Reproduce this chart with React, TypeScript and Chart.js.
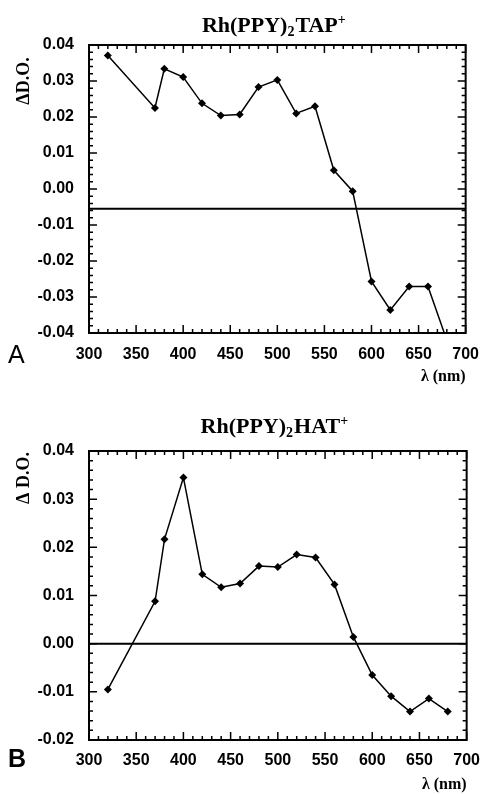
import React, { useEffect, useRef } from "react";
import { Chart, registerables } from "chart.js";
Chart.register(...registerables);

// ---- data ----
const wavelengths = [320, 370, 380, 400, 420, 440, 460, 480, 500, 520, 540, 560, 580, 600, 620, 640, 660, 680];
const tapValues = [0.0371, 0.0225, 0.0334, 0.0311, 0.0238, 0.0204, 0.0207, 0.0283, 0.0303, 0.021, 0.023, 0.0052, -0.0006, -0.0257, -0.0336, -0.0271, -0.0271, -0.042];
const hatValues = [-0.0095, 0.0088, 0.0217, 0.0345, 0.0144, 0.0117, 0.0125, 0.0161, 0.0159, 0.0185, 0.0179, 0.0123, 0.0014, -0.0065, -0.0109, -0.0141, -0.0114, -0.0141];
const baselineX = [300, 700];
const tapBaseline = [-0.0055, -0.0055];
const hatBaseline = [0, 0];
const xTickValues = [300, 350, 400, 450, 500, 550, 600, 650, 700];
const yTicksTap = [-0.04, -0.03, -0.02, -0.01, 0, 0.01, 0.02, 0.03, 0.04];
const yTicksHat = [-0.02, -0.01, 0, 0.01, 0.02, 0.03, 0.04];
const titleTap = [["Rh(PPY)", "n"], ["2", "sub"], ["TAP", "n"], ["+", "sup"]];
const titleHat = [["Rh(PPY)", "n"], ["2", "sub"], ["HAT", "n"], ["+", "sup"]];
const yTitleTap = "\u0394D.O.";
const yTitleHat = "\u0394 D.O.";
const xTitle = "\u03bb (nm)";

const SANS = "'Liberation Sans', Arial, sans-serif";
const SERIF = "'Liberation Serif', 'Times New Roman', serif";

type PanelCfg = {
  height: number;
  top: number;
  padTop: number;
  values: number[];
  baseline: number[];
  yMin: number;
  yMax: number;
  yTicks: number[];
  title: string[][];
  titleY: number;
  yTitle: string;
  yTitleY: number;
  letter: string;
  letterY: number;
  letterWeight: string;
  xScaleHeight: number;
  xLabelPad: number;
  xTitlePad: number;
};

const panels: PanelCfg[] = [
  {
    height: 390, top: 0, padTop: 45, values: tapValues, baseline: tapBaseline, yMin: -0.04, yMax: 0.04,
    yTicks: yTicksTap, title: titleTap, titleY: 32, yTitle: yTitleTap, yTitleY: 81,
    letter: "A", letterY: 363, letterWeight: "normal", xScaleHeight: 57, xLabelPad: 12, xTitlePad: 4,
  },
  {
    height: 404, top: 390, padTop: 61, values: hatValues, baseline: hatBaseline, yMin: -0.02, yMax: 0.04,
    yTicks: yTicksHat, title: titleHat, titleY: 43, yTitle: yTitleHat, yTitleY: 88,
    letter: "B", letterY: 377, letterWeight: "bold", xScaleHeight: 54, xLabelPad: 11, xTitlePad: 0,
  },
];

function makeDecor(cfg: PanelCfg) {
  return {
    id: "decor",
    afterDatasetsDraw(chart: any) {
      const ctx = chart.ctx as CanvasRenderingContext2D;
      const { left, right, top, bottom } = chart.chartArea;
      const xs = chart.scales.x;
      const ys = chart.scales.y;
      ctx.save();
      ctx.strokeStyle = "#000";
      // frame
      ctx.lineWidth = 2;
      ctx.strokeRect(left, top, right - left, bottom - top);
      // inward ticks on all four sides
      ctx.lineWidth = 1.5;
      ctx.beginPath();
      for (let v = 300; v <= 700; v += 10) {
        const px = xs.getPixelForValue(v);
        const len = v % 50 === 0 ? 8 : 4;
        ctx.moveTo(px, bottom);
        ctx.lineTo(px, bottom - len);
        ctx.moveTo(px, top);
        ctx.lineTo(px, top + len);
      }
      const n0 = Math.round(cfg.yMin * 500);
      const n1 = Math.round(cfg.yMax * 500);
      for (let i = n0; i <= n1; i++) {
        const py = ys.getPixelForValue(i / 500);
        const len = i % 5 === 0 ? 8 : 4;
        ctx.moveTo(left, py);
        ctx.lineTo(left + len, py);
        ctx.moveTo(right, py);
        ctx.lineTo(right - len, py);
      }
      ctx.stroke();
      ctx.restore();
    },
    afterDraw(chart: any) {
      const ctx = chart.ctx as CanvasRenderingContext2D;
      const { left, right } = chart.chartArea;
      ctx.save();
      ctx.fillStyle = "#000";
      // title with sub/superscripts
      const main = "bold 22px " + SERIF;
      const small = "bold 14px " + SERIF;
      let total = 0;
      for (const [t, s] of cfg.title) {
        ctx.font = s === "n" ? main : small;
        total += ctx.measureText(t).width + (s === "n" ? 0 : 1);
      }
      let x = (left + right) / 2 - total / 2 - 3;
      ctx.textBaseline = "alphabetic";
      ctx.textAlign = "left";
      for (const [t, s] of cfg.title) {
        ctx.font = s === "n" ? main : small;
        const dy = s === "sub" ? 4 : s === "sup" ? -8 : 0;
        ctx.fillText(t, x, cfg.titleY + dy);
        x += ctx.measureText(t).width + (s === "n" ? 0 : 1);
      }
      // y title
      ctx.save();
      ctx.translate(24, cfg.yTitleY);
      ctx.rotate(-Math.PI / 2);
      ctx.font = "bold 18px " + SERIF;
      ctx.textAlign = "center";
      ctx.textBaseline = "middle";
      ctx.fillText(cfg.yTitle, 0, 0);
      ctx.restore();
      // panel letter
      ctx.font = cfg.letterWeight + " 25px " + SANS;
      ctx.textAlign = "left";
      ctx.textBaseline = "alphabetic";
      ctx.fillText(cfg.letter, 8, cfg.letterY);
      ctx.restore();
    },
  };
}

function Panel({ cfg }: { cfg: PanelCfg }) {
  const ref = useRef<HTMLCanvasElement | null>(null);
  useEffect(() => {
    if (!ref.current) return;
    const chart = new Chart(ref.current, {
      type: "scatter",
      data: {
        datasets: [
          {
            data: wavelengths.map((w, i) => ({ x: w, y: cfg.values[i] })),
            showLine: true,
            borderColor: "#000",
            backgroundColor: "#000",
            borderWidth: 1.5,
            pointStyle: "rectRot",
            pointRadius: 4,
            pointBorderWidth: 0,
            clip: 0,
          } as any,
          {
            data: baselineX.map((w, i) => ({ x: w, y: cfg.baseline[i] })),
            showLine: true,
            borderColor: "#000",
            borderWidth: 2,
            pointRadius: 0,
          } as any,
        ],
      },
      options: {
        animation: false,
        responsive: false,
        layout: { padding: { top: cfg.padTop, right: 16, left: 0, bottom: 0 } },
        plugins: { legend: { display: false }, tooltip: { enabled: false }, title: { display: false } },
        scales: {
          x: {
            type: "linear",
            min: 300,
            max: 700,
            afterBuildTicks: (s: any) => { s.ticks = xTickValues.map((v) => ({ value: v })); },
            afterFit: (s: any) => { s.height = cfg.xScaleHeight; },
            grid: { display: false, drawTicks: false },
            border: { display: false },
            ticks: {
              color: "#000",
              font: { family: SANS, size: 16, weight: "bold" },
              padding: cfg.xLabelPad,
              maxRotation: 0,
              autoSkip: false,
              callback: (v: any) => String(v),
            },
            title: {
              display: true,
              text: xTitle,
              align: "end",
              color: "#000",
              font: { family: SERIF, size: 16, weight: "bold" },
              padding: { top: 0, bottom: cfg.xTitlePad },
            },
          },
          y: {
            type: "linear",
            min: cfg.yMin,
            max: cfg.yMax,
            afterBuildTicks: (s: any) => { s.ticks = cfg.yTicks.map((v) => ({ value: v })); },
            afterFit: (s: any) => { s.width = 89; },
            grid: { display: false, drawTicks: false },
            border: { display: false },
            ticks: {
              color: "#000",
              font: { family: SANS, size: 16, weight: "bold" },
              padding: 15,
              autoSkip: false,
              callback: (v: any) => Number(v).toFixed(2),
            },
          },
        },
      } as any,
      plugins: [makeDecor(cfg)],
    });
    return () => chart.destroy();
  }, [cfg]);
  return (
    <canvas
      ref={ref}
      width={491}
      height={cfg.height}
      style={{ position: "absolute", left: 0, top: cfg.top, width: 491, height: cfg.height, display: "block" }}
    />
  );
}

export default function App() {
  return (
    <div style={{ position: "absolute", left: 0, top: 0, width: 491, height: 794, background: "#fff" }}>
      {panels.map((p, i) => (
        <Panel key={i} cfg={p} />
      ))}
    </div>
  );
}
